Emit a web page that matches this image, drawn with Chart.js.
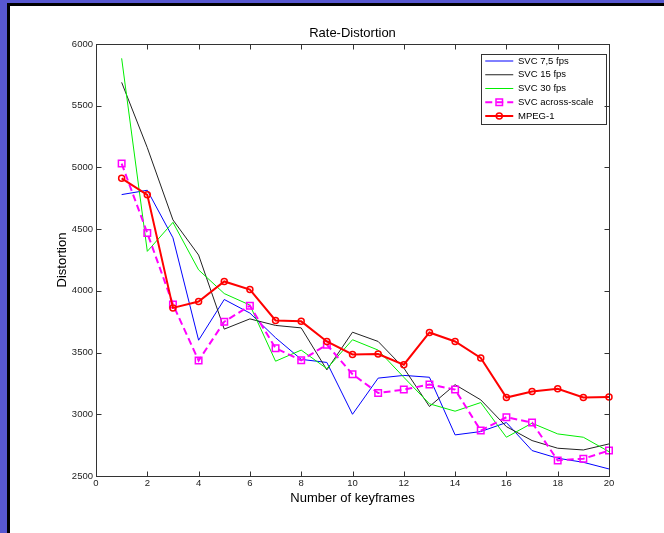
<!DOCTYPE html>
<html><head><meta charset="utf-8">
<script src="https://cdn.jsdelivr.net/npm/chart.js@4/dist/chart.umd.min.js"></script>
<style>
html,body{margin:0;padding:0;background:#fff;width:664px;height:533px;overflow:hidden;}
#wrap{position:relative;width:664px;height:533px;}
.bl{position:absolute;left:0;top:0;width:7px;height:533px;background:#5858d0;}
.bt{position:absolute;left:0;top:0;width:664px;height:3px;background:#5858d0;}
.kl{position:absolute;left:7px;top:3px;width:3px;height:530px;background:#000;}
.kt{position:absolute;left:7px;top:3px;width:657px;height:3px;background:#000;}
canvas{position:absolute;left:0;top:0;}
</style></head>
<body><div id="wrap"><div class="bl"></div><div class="bt"></div><div class="kl"></div><div class="kt"></div>
<canvas id="c" width="664" height="533"></canvas></div>
<script>
const keyframes = [1,2,3,4,5,6,7,8,9,10,11,12,13,14,15,16,17,18,19,20];
const svc75 = [4780,4815,4430,3600,3930,3820,3620,3445,3420,3000,3293,3315,3300,2833,2860,2933,2706,2644,2611,2557];
const svc15 = [5689,5160,4575,4290,3690,3773,3720,3700,3360,3665,3590,3375,3063,3240,3117,2900,2787,2725,2711,2760];
const svc30 = [5884,4320,4555,4170,3978,3885,3430,3520,3370,3604,3520,3300,3085,3025,3095,2814,2928,2841,2814,2697];
const acrossScale = [5031,4468,3890,3435,3750,3880,3535,3437,3564,3325,3172,3200,3242,3200,2868,2976,2933,2626,2640,2706];
const mpeg1 = [4912,4778,3862,3913,4076,4011,3760,3753,3590,3485,3488,3402,3663,3590,3456,3136,3185,3207,3136,3140];
const xTicks = [0,2,4,6,8,10,12,14,16,18,20];
const yTicks = [2500,3000,3500,4000,4500,5000,5500,6000];
const labels = ['SVC 7,5 fps','SVC 15 fps','SVC 30 fps','SVC across-scale','MPEG-1'];

const pts = arr => keyframes.map((k,i)=>({x:k,y:arr[i]}));
const FONT = '"Liberation Sans", Arial, Helvetica, sans-serif';
Chart.defaults.font.family = FONT;

const datasets = [
  {label:labels[4], data:pts(mpeg1), borderColor:'#ff0000', borderWidth:2, pointStyle:'circle', pointRadius:3, pointBorderWidth:1.5, pointBorderColor:'#ff0000', pointBackgroundColor:'rgba(0,0,0,0)', clip:false},
  {label:labels[3], data:pts(acrossScale), borderColor:'#ff00ff', borderWidth:2, borderDash:[7,4], pointStyle:'rect', pointRadius:4.6, pointBorderWidth:1.5, pointBorderColor:'#ff00ff', pointBackgroundColor:'rgba(0,0,0,0)', clip:false},
  {label:labels[2], data:pts(svc30), borderColor:'#00ee00', borderWidth:1, pointRadius:0},
  {label:labels[1], data:pts(svc15), borderColor:'#222222', borderWidth:1, pointRadius:0},
  {label:labels[0], data:pts(svc75), borderColor:'#0000ff', borderWidth:1, pointRadius:0}
];

const framePlugin = {
  id:'frame',
  afterLayout(chart){
    const lg = chart.legend, ca = chart.chartArea;
    if(!lg) return;
    lg.left = ca.right - 128; lg.top = ca.top + 8;
    lg.right = lg.left + 125; lg.bottom = lg.top + 80;
  },
  afterDraw(chart){
    const ctx = chart.ctx, ca = chart.chartArea, xs = chart.scales.x, ys = chart.scales.y;
    const L = Math.round(ca.left)+0.5, R = Math.round(ca.right)+0.5, T = Math.round(ca.top)+0.5, B = Math.round(ca.bottom)+0.5;
    ctx.save();
    ctx.strokeStyle = '#333'; ctx.lineWidth = 1; ctx.setLineDash([]);
    ctx.strokeRect(L, T, R-L, B-T);
    ctx.beginPath();
    xs.ticks.forEach(t=>{ const p = Math.round(xs.getPixelForValue(t.value))+0.5; ctx.moveTo(p,B); ctx.lineTo(p,B-5); ctx.moveTo(p,T); ctx.lineTo(p,T+5); });
    ys.ticks.forEach(t=>{ const p = Math.round(ys.getPixelForValue(t.value))+0.5; ctx.moveTo(L,p); ctx.lineTo(L+5,p); ctx.moveTo(R,p); ctx.lineTo(R-5,p); });
    ctx.stroke();
    const lg = chart.legend;
    if(lg){
      const lo = lg.options.labels; const pad = lo.padding; const fs = 9.5; const bw = lo.boxWidth;
      const bl = Math.round(lg.left)+0.5, bt = Math.round(lg.top+2)+0.5;
      ctx.strokeStyle = '#333'; ctx.lineWidth = 1;
      ctx.strokeRect(bl, bt, Math.round(ca.right-3) - bl + 0.5, 70);
      lg.legendItems.forEach((it,i)=>{
        const ds = chart.data.datasets[it.datasetIndex];
        const y = lg.top + pad + i*(fs+pad) + fs/2;
        const x0 = lg.left + pad, x1 = x0 + bw;
        ctx.save();
        ctx.strokeStyle = ds.borderColor; ctx.lineWidth = ds.borderWidth;
        ctx.setLineDash(ds.borderDash || []);
        ctx.beginPath(); ctx.moveTo(x0,y); ctx.lineTo(x1,y); ctx.stroke();
        ctx.restore();
        if(ds.pointRadius>0){
          ctx.save(); ctx.strokeStyle = ds.pointBorderColor; ctx.lineWidth = ds.pointBorderWidth; ctx.setLineDash([]);
          ctx.beginPath();
          if(ds.pointStyle==='rect'){ const s = Math.SQRT1_2*ds.pointRadius; ctx.rect((x0+x1)/2-s, y-s, 2*s, 2*s); }
          else { ctx.arc((x0+x1)/2, y, ds.pointRadius, 0, Math.PI*2); }
          ctx.stroke(); ctx.restore();
        }
      });
    }
    ctx.restore();
  }
};

new Chart(document.getElementById('c'), {
  type:'line',
  data:{datasets},
  options:{
    responsive:false, animation:false, devicePixelRatio:1,
    events:[],
    elements:{line:{tension:0}},
    layout:{padding:{left:0,right:55,top:0,bottom:0}},
    plugins:{
      tooltip:{enabled:false},
      title:{display:true, text:'Rate-Distortion', fullSize:false, color:'#000', font:{size:13, weight:'normal', family:FONT}, padding:{top:25.2, bottom:3.2}},
      legend:{display:true, position:'chartArea', align:'start', reverse:true,
        labels:{font:{size:9.5, family:FONT}, color:'#000', boxWidth:28, padding:4.25,
          generateLabels:(chart)=>Chart.defaults.plugins.legend.labels.generateLabels(chart).map(l=>Object.assign(l,{fillStyle:'rgba(0,0,0,0)', strokeStyle:'rgba(0,0,0,0)', lineWidth:0}))}}
    },
    scales:{
      x:{type:'linear', min:0, max:20,
        afterBuildTicks:(s)=>{ s.ticks = xTicks.map(v=>({value:v})); },
        afterFit:(s)=>{ s.height = 57; },
        grid:{display:false, drawTicks:false}, border:{display:false},
        ticks:{font:{size:9.5, family:FONT}, color:'#222', padding:2, maxRotation:0, autoSkip:false, callback:(v)=>String(v)},
        title:{display:true, text:'Number of keyframes', color:'#000', font:{size:13, family:FONT}, padding:{top:0, bottom:27.2}}
      },
      y:{type:'linear', min:2500, max:6000,
        afterBuildTicks:(s)=>{ s.ticks = yTicks.map(v=>({value:v})); },
        afterFit:(s)=>{ s.width = 96; },
        grid:{display:false, drawTicks:false}, border:{display:false},
        ticks:{font:{size:9.5, family:FONT}, color:'#222', padding:3, autoSkip:false, callback:(v)=>String(v)},
        title:{display:true, text:'Distortion', color:'#000', font:{size:13, family:FONT}, padding:{top:54.2, bottom:0}}
      }
    }
  },
  plugins:[framePlugin]
});
</script>
</body></html>
